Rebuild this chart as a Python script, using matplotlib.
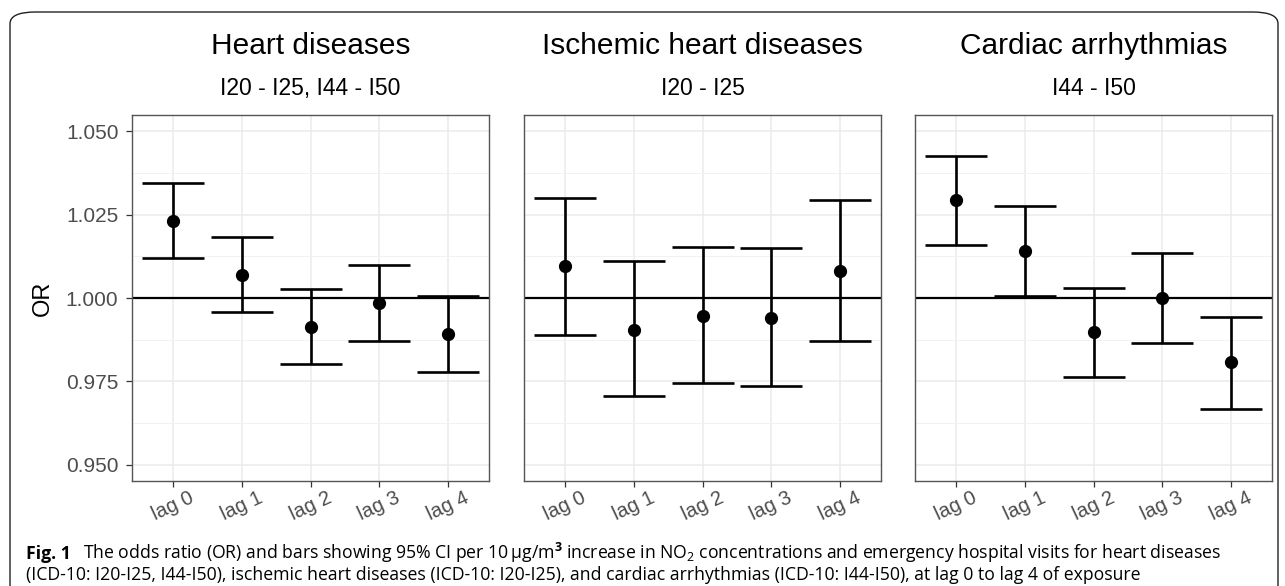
import matplotlib
matplotlib.use('Agg')
import matplotlib.pyplot as plt
from matplotlib.patches import FancyBboxPatch
import numpy as np

# data
lags = ['lag 0', 'lag 1', 'lag 2', 'lag 3', 'lag 4']
titles = ['Heart diseases', 'Ischemic heart diseases', 'Cardiac arrhythmias']
subtitles = ['I20 - I25, I44 - I50', 'I20 - I25', 'I44 - I50']

hd_or = [1.0231, 1.0069, 0.9914, 0.9984, 0.9892]
hd_lo = [1.0121, 0.9959, 0.9802, 0.9871, 0.9778]
hd_hi = [1.0344, 1.0182, 1.0027, 1.0098, 1.0007]

ihd_or = [1.0095, 0.9905, 0.9947, 0.9940, 1.0082]
ihd_lo = [0.9890, 0.9707, 0.9744, 0.9736, 0.9872]
ihd_hi = [1.0300, 1.0110, 1.0154, 1.0150, 1.0294]

ca_or = [1.0292, 1.0141, 0.9897, 0.9999, 0.9807]
ca_lo = [1.0158, 1.0007, 0.9763, 0.9864, 0.9669]
ca_hi = [1.0426, 1.0276, 1.0031, 1.0136, 0.9944]

yticks = [0.950, 0.975, 1.000, 1.025, 1.050]
ytick_labels = ['0.950', '0.975', '1.000', '1.025', '1.050']

W, H = 1285, 586
fig = plt.figure(figsize=(W / 100, H / 100), dpi=100)
fig.patch.set_facecolor('white')

# rounded frame around the figure (open at the bottom)
frame = FancyBboxPatch((10 / W, -0.2), 1268 / W, 1.2 - 12 / H,
                       boxstyle='round,pad=0,rounding_size=0.02',
                       transform=fig.transFigure, fill=False,
                       edgecolor='#222222', linewidth=1.0)
fig.patches.append(frame)

plt.rcParams['mathtext.fontset'] = 'custom'
plt.rcParams['mathtext.rm'] = 'Open Sans'
plt.rcParams['mathtext.bf'] = 'Open Sans:bold'

sans = 'Liberation Sans'
panel_left = [132, 524, 915]
panel_w = 357
top_px, bot_px = 115, 481

series = [(hd_or, hd_lo, hd_hi), (ihd_or, ihd_lo, ihd_hi), (ca_or, ca_lo, ca_hi)]
x = np.arange(len(lags))

for i, (est, lo, hi) in enumerate(series):
    ax = fig.add_axes([panel_left[i] / W, 1 - bot_px / H, panel_w / W, (bot_px - top_px) / H])
    ax.set_xlim(-0.6, 4.6)
    ax.set_ylim(0.9452, 1.0548)
    ax.set_yticks(yticks)
    ax.set_yticks([0.9625, 0.9875, 1.0125, 1.0375], minor=True)
    ax.set_xticks(x)
    ax.set_xticklabels(lags, rotation=25, ha='center', va='top',
                       fontsize=14.5, color='#4d4d4d', family=sans)
    if i == 0:
        ax.set_yticklabels(ytick_labels, fontsize=15, color='#4d4d4d', family=sans)
        ax.tick_params(axis='y', length=4.3, width=0.9, color='#333333', pad=5.5)
    else:
        ax.tick_params(axis='y', left=False, labelleft=False)
    ax.tick_params(axis='y', which='minor', left=False)
    ax.tick_params(axis='x', length=4.0, width=0.9, color='#333333', pad=1.5)

    ax.grid(True, which='major', color='#ebebeb', linewidth=1.1)
    ax.grid(True, which='minor', axis='y', color='#f2f2f2', linewidth=0.7)
    ax.set_axisbelow(True)
    for sp in ax.spines.values():
        sp.set_color('#555555')
        sp.set_linewidth(1.0)

    ax.axhline(1.0, color='black', linewidth=1.6, zorder=2)
    yerr = [np.array(est) - np.array(lo), np.array(hi) - np.array(est)]
    ax.errorbar(x, est, yerr=yerr, fmt='o', color='black', markersize=8.5,
                elinewidth=1.9, capsize=22, capthick=1.9, zorder=3)

    cx = (panel_left[i] + panel_w / 2) / W
    fig.text(cx, 1 - 54 / H, titles[i], ha='center', va='baseline',
             fontsize=21.5, family=sans, color='black')
    fig.text(cx, 1 - 95 / H, subtitles[i], ha='center', va='baseline',
             fontsize=16.5, family=sans, color='black')

fig.text(43 / W, 1 - 298 / H, 'OR', rotation=90, ha='center', va='center',
         fontsize=17, family=sans, color='black')

# caption
cap_font = 'Open Sans'
cap_size = 12.7
y1 = 1 - 559 / H
y2 = 1 - 580 / H
t = fig.text(26 / W, y1, 'Fig. 1', fontsize=cap_size, fontweight='bold',
             family=cap_font, va='baseline')
fig.canvas.draw()
bb = t.get_window_extent()
fig.text((bb.x1 + 12) / W, y1,
         r'The odds ratio (OR) and bars showing 95% CI per 10$\,$µg/m$^{\mathbf{3}}$ increase in NO$_{2}$ '
         r'concentrations and emergency hospital visits for heart diseases',
         fontsize=cap_size, family=cap_font, va='baseline')
fig.text(26 / W, y2,
         '(ICD-10: I20-I25, I44-I50), ischemic heart diseases (ICD-10: I20-I25), and cardiac arrhythmias '
         '(ICD-10: I44-I50), at lag 0 to lag 4 of exposure',
         fontsize=cap_size, family=cap_font, va='baseline')

fig.savefig('out.png', dpi=100, facecolor='white')
